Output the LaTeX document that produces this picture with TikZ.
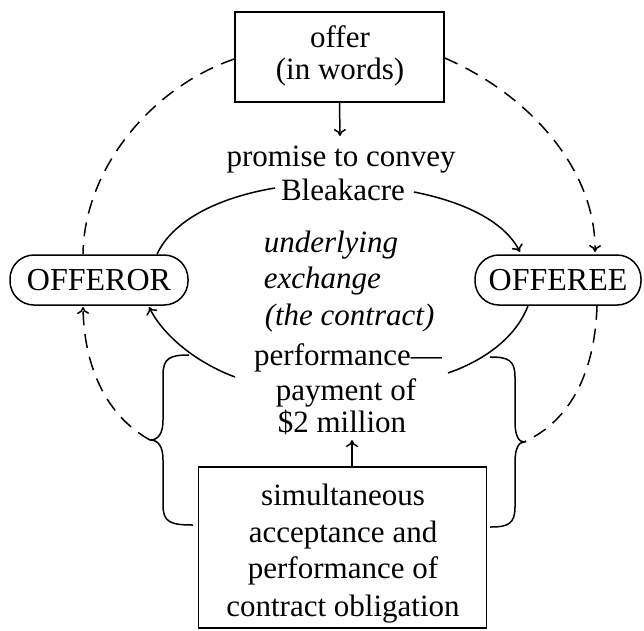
\documentclass[tikz,border=0pt]{standalone}
\usepackage{fontspec}
\setmainfont{Liberation Serif}
\usetikzlibrary{arrows.meta}

\begin{document}
\begin{tikzpicture}[x=1pt,y=-1pt,
    line width=1.5pt,
    txt/.style={inner sep=0pt,anchor=base,font=\fontsize{31}{34}\selectfont},
    itxt/.style={txt,anchor=base west,font=\fontsize{31}{34}\selectfont\itshape},
    party/.style={draw,rounded corners=24pt,minimum width=178pt,minimum height=50pt,
                  inner sep=0pt,font=\fontsize{32}{34}\selectfont},
    frame/.style={draw,inner sep=0pt},
    tip/.style={-{To[length=7pt,width=12pt]}},
    dashline/.style={dash pattern=on 14pt off 9pt},
  ]
  \useasboundingbox (0,0) rectangle (644,630);

  % the offer box
  \node[frame,minimum width=209pt,minimum height=90pt] (offer) at (339.5,57) {};
  \node[txt] (offerA) at (340,47) {offer};
  \node[txt] (offerB) at (340,79) {(in words)};

  % the promise made by the offer
  \node[txt] (promise) at (341,166) {promise to convey};
  \node[txt] (bleak) at (343,200) {Bleakacre};

  % the two parties
  \node[party] (offeror) at (99,280) {OFFEROR};
  \node[party,minimum width=166pt] (offeree) at (558,280) {OFFEREE};

  % the exchange in the middle
  \node[itxt] (under) at (263,252) {underlying};
  \node[itxt] (exch) at (263,288) {exchange};
  \node[itxt] (contr) at (264,325) {(the contract)};

  % the performance
  \node[txt] (perf) at (348,365) {performance---};
  \node[txt] (pay) at (346,400) {payment of};
  \node[txt] (money) at (342,432) {\$2 million};

  % the acceptance box
  \node[frame,minimum width=288pt,minimum height=161pt] (accept) at (342.5,547.5) {};
  \node[txt] (accA) at (343,505) {simultaneous};
  \node[txt] (accB) at (343,542) {acceptance and};
  \node[txt] (accC) at (343,578) {performance of};
  \node[txt] (accD) at (343,616) {contract obligation};

  % free ends of the solid arcs, beside the texts
  \coordinate (bl) at (275,188);
  \coordinate (br) at (414,192);
  \coordinate (pl) at (235,377);
  \coordinate (pr) at (448,373);

  % brace tips
  \coordinate (lbrace) at (150,440);
  \coordinate (rbrace) at (524,442);

  % offer -> promise
  \draw[tip] (offer.south) -- (340,136);
  % acceptance -> payment
  \draw[tip] (accept.north -| 352,0) -- (352,440);

  % solid arcs of the exchange
  \draw (bl) .. controls (215,198) and (172,222) .. (offeror.north -| 157,0);
  \draw[tip] (br) .. controls (465,202) and (505,222) .. (520,252);
  \draw[tip] (pl) .. controls (195,362) and (163,335) .. (149,307);
  \draw (offeree.south -| 528,0) .. controls (515,340) and (480,362) .. (pr);

  % dashed arcs of the offer and acceptance
  \draw[dashline] (offer.west |- 0,59) .. controls (150,88) and (84,170) .. (offeror.north -| 83,0);
  \draw[dashline,tip] (offer.east |- 0,58) .. controls (530,95) and (596,170) .. (595,252);
  \draw[dashline,tip] (lbrace) .. controls (105,415) and (84,365) .. (83,307);
  \draw[dashline] (offeree.south -| 597,0) .. controls (595,370) and (572,420) .. (rbrace);

  % braces gathering acceptance and performance
  \draw (189,355) .. controls (170,355) and (163,358) .. (163,375) -- (163,420)
        .. controls (163,434) and (158,440) .. (lbrace)
        .. controls (158,440) and (163,446) .. (163,460) -- (163,505)
        .. controls (163,522) and (170,525) .. (193,525);
  \draw (490,357) .. controls (508,357) and (515,360) .. (515,377) -- (515,422)
        .. controls (515,436) and (519,442) .. (rbrace)
        .. controls (519,442) and (515,448) .. (515,462) -- (515,507)
        .. controls (515,524) and (508,527) .. (490,527);
\end{tikzpicture}
\end{document}
